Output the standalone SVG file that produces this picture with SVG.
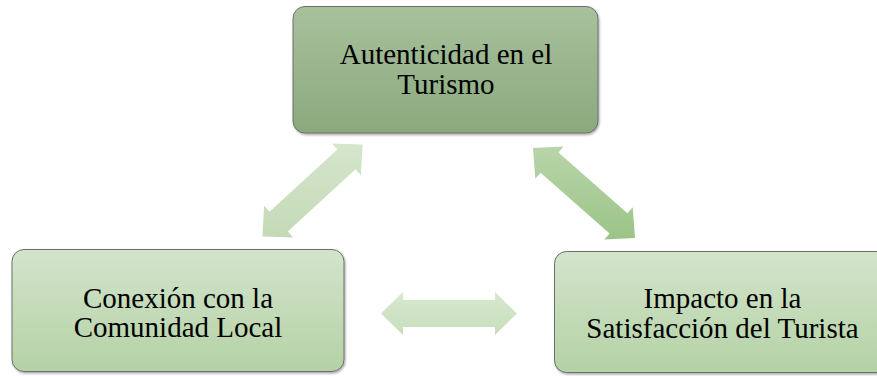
<svg xmlns="http://www.w3.org/2000/svg" width="877" height="376" viewBox="0 0 877 376">
  <style>
    .box { stroke: #6e6e6e; stroke-width: 1; filter: url(#sh); }
    .lbl { font-family: "Liberation Serif", "Times New Roman", serif; font-size: 29px; fill: #000; text-anchor: middle; }
  </style>
  <defs>
    <linearGradient id="gTop" x1="0" y1="0" x2="0" y2="1">
      <stop offset="0" stop-color="#a8c19d"/>
      <stop offset="1" stop-color="#8ba97d"/>
    </linearGradient>
    <linearGradient id="gBot" x1="0" y1="0" x2="0" y2="1">
      <stop offset="0" stop-color="#d3e4cb"/>
      <stop offset="1" stop-color="#b4d2a5"/>
    </linearGradient>
    <linearGradient id="gArL" x1="0" y1="0" x2="0" y2="1">
      <stop offset="0" stop-color="#d5e6cc"/>
      <stop offset="1" stop-color="#c3dab6"/>
    </linearGradient>
    <linearGradient id="gArR" x1="0" y1="0" x2="0" y2="1">
      <stop offset="0" stop-color="#b8d5aa"/>
      <stop offset="1" stop-color="#9bc487"/>
    </linearGradient>
    <linearGradient id="gArH" x1="0" y1="0" x2="0" y2="1">
      <stop offset="0" stop-color="#d7e8cf"/>
      <stop offset="1" stop-color="#c7debb"/>
    </linearGradient>
    <filter id="sh" x="-5%" y="-5%" width="110%" height="115%">
      <feDropShadow dx="1" dy="1.5" stdDeviation="1" flood-color="#000" flood-opacity="0.35"/>
    </filter>
  </defs>

  <g id="connectors">
    <polygon id="arrow-left" fill="url(#gArL)" points="262.45,236.53 264.09,205.81 269.50,211.70 337.22,149.42 331.81,143.53 362.55,144.47 360.91,175.19 355.50,169.30 287.78,231.58 293.19,237.47"/>
    <polygon id="arrow-right" fill="url(#gArR)" points="532.99,148.03 563.72,146.45 558.43,152.45 627.43,213.29 632.72,207.29 635.01,237.97 604.28,239.55 609.57,233.55 540.57,172.71 535.28,178.71"/>
    <polygon id="arrow-bottom" fill="url(#gArH)" points="381,313.5 403,292 403,300 495,300 495,292 517,313.5 495,335 495,327 403,327 403,335"/>
  </g>

  <g id="node-autenticidad">
    <rect class="box" x="293" y="6.5" width="305" height="126.5" rx="12" fill="url(#gTop)"/>
    <text class="lbl" x="446" y="64">Autenticidad en el</text>
    <text class="lbl" x="446" y="94">Turismo</text>
  </g>

  <g id="node-conexion">
    <rect class="box" x="12" y="249.5" width="332" height="122" rx="12" fill="url(#gBot)"/>
    <text class="lbl" x="178" y="308">Conexión con la</text>
    <text class="lbl" x="178" y="337">Comunidad Local</text>
  </g>

  <g id="node-impacto">
    <rect class="box" x="554.5" y="251.5" width="336" height="121" rx="12" fill="url(#gBot)"/>
    <text class="lbl" x="722.5" y="308">Impacto en la</text>
    <text class="lbl" x="722.5" y="338">Satisfacción del Turista</text>
  </g>
</svg>
